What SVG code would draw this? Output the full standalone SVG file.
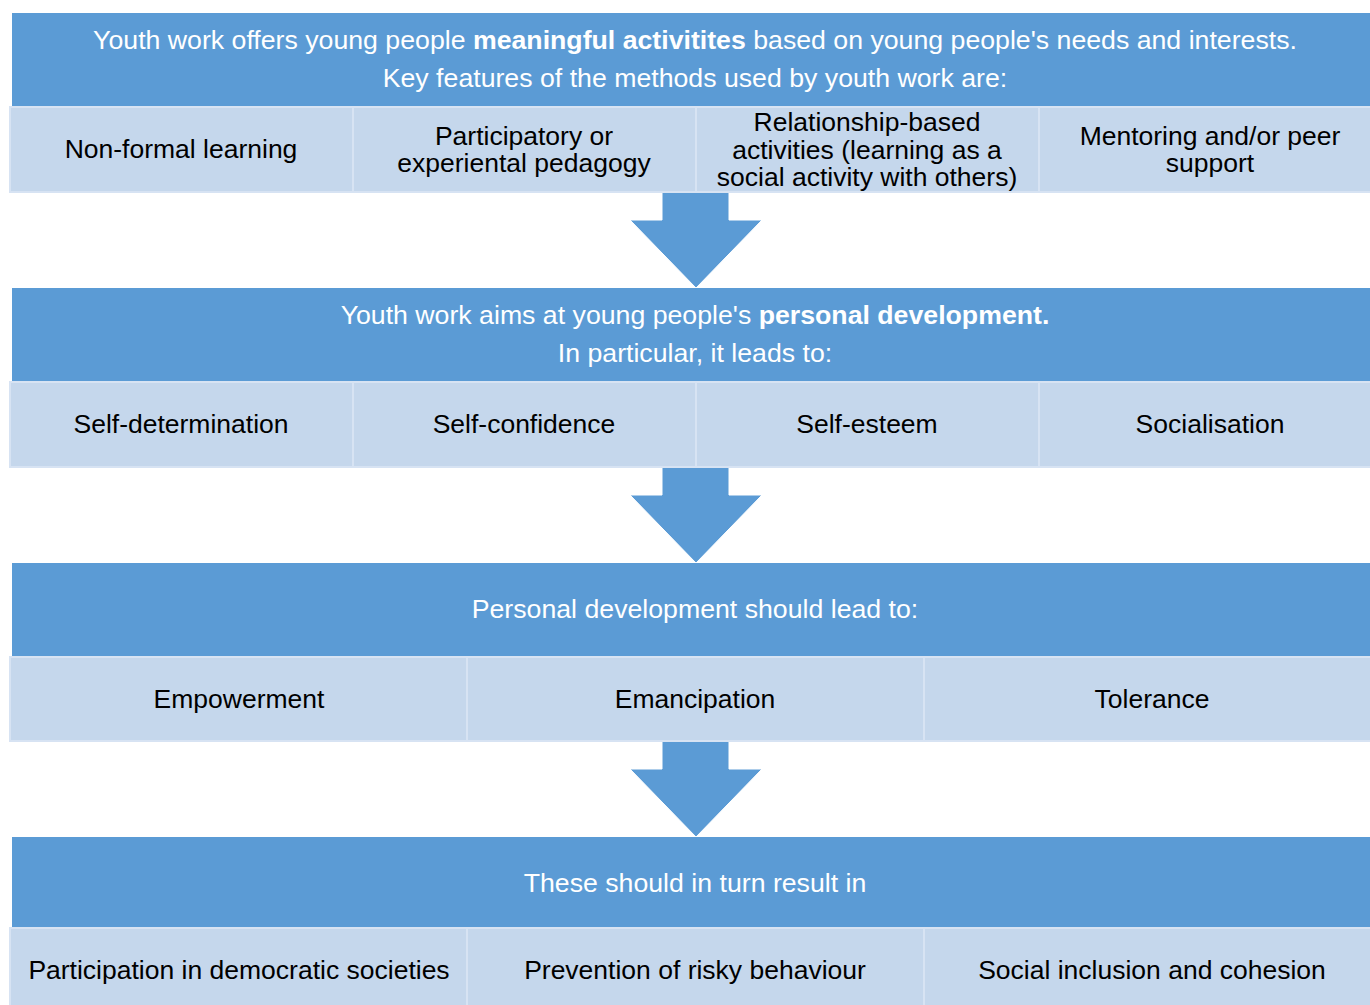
<svg xmlns="http://www.w3.org/2000/svg" width="1370" height="1005" viewBox="0 0 1370 1005">
<style>
.hdr{fill:#5B9BD5}
.cell{fill:#C5D7EC;stroke:#D7E3F3;stroke-width:2}
.arrow{fill:#5B9BD5;stroke:#FFFFFF;stroke-width:1}
text{font-family:"Liberation Sans",Arial,sans-serif;text-anchor:middle}
.ht{fill:#FFFFFF;font-size:26.7px}
.ct{fill:#000000;font-size:26.5px}
</style>
<rect width="1370" height="1005" fill="#FFFFFF"/>
<g id="connectors">
<path class="arrow" d="M662,192 H729 V220 H762 L696,288 L630,220 H662 Z"/>
<path class="arrow" d="M662,467 H729 V495 H762 L696,563 L630,495 H662 Z"/>
<path class="arrow" d="M662,741 H729 V769 H762 L696,837 L630,769 H662 Z"/>
</g>
<g id="section1">
<rect class="hdr" x="12" y="13" width="1358" height="94"/>
<text class="ht" x="695" y="49">Youth work offers young people <tspan font-weight="bold">meaningful activitites</tspan> based on young people's needs and interests.</text>
<text class="ht" x="695" y="87">Key features of the methods used by youth work are:</text>
</g>
<g id="nonformal">
<rect class="cell" x="10" y="107" width="343" height="85"/>
<text class="ct" x="181" y="158">Non-formal learning</text>
</g>
<g id="participatory">
<rect class="cell" x="353" y="107" width="343" height="85"/>
<text class="ct" x="524" y="145">Participatory or<tspan x="524" dy="27">experiental pedagogy</tspan></text>
</g>
<g id="relationship">
<rect class="cell" x="696" y="107" width="343" height="85"/>
<text class="ct" x="867" y="131">Relationship-based<tspan x="867" dy="27.5">activities (learning as a</tspan><tspan x="867" dy="27.5">social activity with others)</tspan></text>
</g>
<g id="mentoring">
<rect class="cell" x="1039" y="107" width="335" height="85"/>
<text class="ct" x="1210" y="144.5">Mentoring and/or peer<tspan x="1210" dy="27.5">support</tspan></text>
</g>
<g id="section2">
<rect class="hdr" x="12" y="288" width="1358" height="94"/>
<text class="ht" x="695" y="324">Youth work aims at young people's <tspan font-weight="bold">personal development.</tspan></text>
<text class="ht" x="695" y="362">In particular, it leads to:</text>
</g>
<g id="selfdetermination">
<rect class="cell" x="10" y="382" width="343" height="85"/>
<text class="ct" x="181" y="433">Self-determination</text>
</g>
<g id="selfconfidence">
<rect class="cell" x="353" y="382" width="343" height="85"/>
<text class="ct" x="524" y="433">Self-confidence</text>
</g>
<g id="selfesteem">
<rect class="cell" x="696" y="382" width="343" height="85"/>
<text class="ct" x="867" y="433">Self-esteem</text>
</g>
<g id="socialisation">
<rect class="cell" x="1039" y="382" width="335" height="85"/>
<text class="ct" x="1210" y="433">Socialisation</text>
</g>
<g id="section3">
<rect class="hdr" x="12" y="563" width="1358" height="94"/>
<text class="ht" x="695" y="618">Personal development should lead to:</text>
</g>
<g id="empowerment">
<rect class="cell" x="10" y="657" width="457" height="84"/>
<text class="ct" x="239" y="708">Empowerment</text>
</g>
<g id="emancipation">
<rect class="cell" x="467" y="657" width="457" height="84"/>
<text class="ct" x="695" y="708">Emancipation</text>
</g>
<g id="tolerance">
<rect class="cell" x="924" y="657" width="450" height="84"/>
<text class="ct" x="1152" y="708">Tolerance</text>
</g>
<g id="section4">
<rect class="hdr" x="12" y="837" width="1358" height="91"/>
<text class="ht" x="695" y="892">These should in turn result in</text>
</g>
<g id="participation">
<rect class="cell" x="10" y="928" width="457" height="85"/>
<text class="ct" x="239" y="979">Participation in democratic societies</text>
</g>
<g id="prevention">
<rect class="cell" x="467" y="928" width="457" height="85"/>
<text class="ct" x="695" y="979">Prevention of risky behaviour</text>
</g>
<g id="inclusion">
<rect class="cell" x="924" y="928" width="450" height="85"/>
<text class="ct" x="1152" y="979">Social inclusion and cohesion</text>
</g>
</svg>
